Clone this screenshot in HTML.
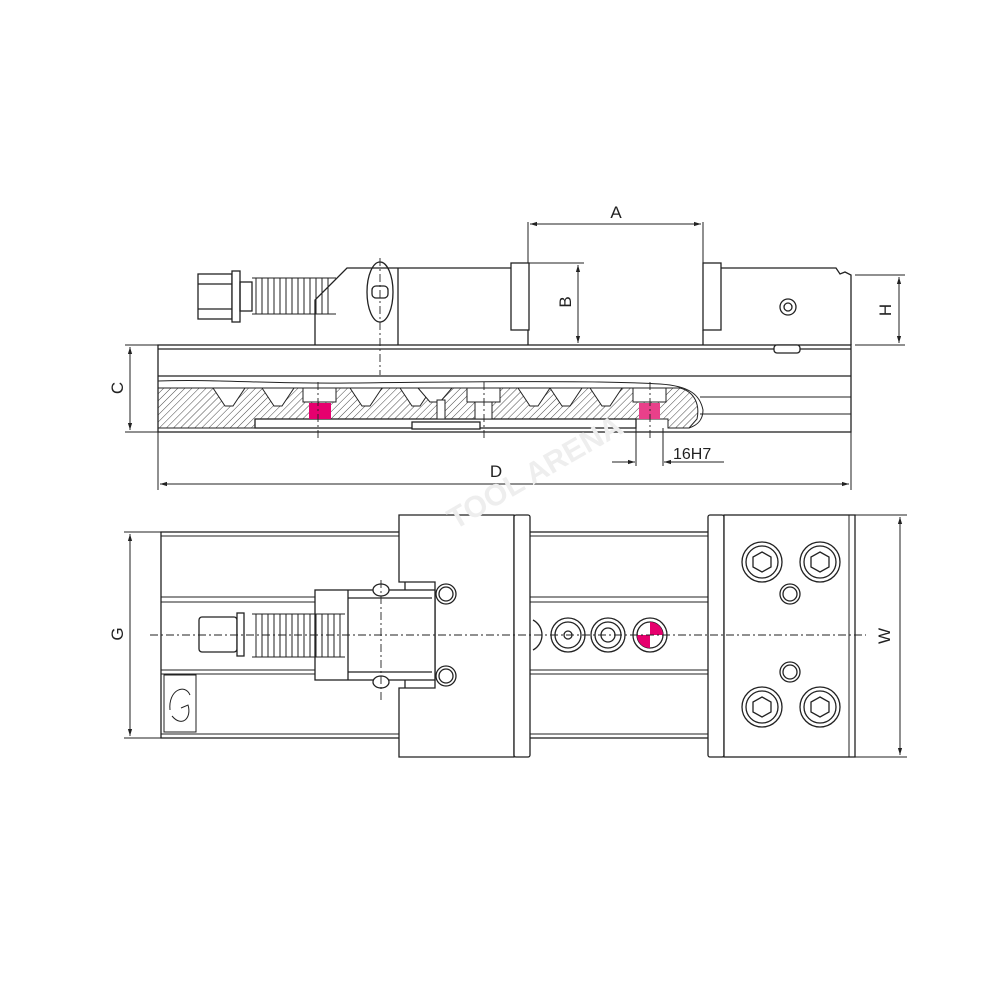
<!DOCTYPE html>
<html><head><meta charset="utf-8"><style>
html,body{margin:0;padding:0;background:#fff;}
svg{display:block}
text{font-family:"Liberation Sans",Arial,sans-serif;fill:#222}
</style></head><body>
<svg width="1000" height="1000" viewBox="0 0 1000 1000" xmlns="http://www.w3.org/2000/svg">
<defs>
<pattern id="h" width="5" height="5" patternUnits="userSpaceOnUse" patternTransform="rotate(45)">
<line x1="0" y1="0" x2="0" y2="5" stroke="#333" stroke-width="0.9"/></pattern>
<marker id="ar" viewBox="0 0 10 10" refX="10" refY="5" markerWidth="7" markerHeight="7" orient="auto-start-reverse"><path d="M0,2 L10,5 L0,8 z" fill="#222"/></marker>
</defs>
<g fill="none" stroke="#222" stroke-width="1.3">
<!-- TOP VIEW -->
<!-- screw -->
<rect x="198" y="274" width="34" height="45" fill="#fff"/>
<line x1="198" y1="284" x2="232" y2="284"/><line x1="198" y1="309" x2="232" y2="309"/>
<rect x="232" y="271" width="8" height="51" fill="#fff"/>
<rect x="240" y="282" width="12" height="29"/>
<g stroke-width="1">
<path d="M252 278 h84 M252 314 h84"/>
<path d="M256 278 v36 M262 278 v36 M268 278 v36 M274 278 v36 M280 278 v36 M286 278 v36 M292 278 v36 M298 278 v36 M304 278 v36 M310 278 v36 M316 278 v36 M322 278 v36 M328 278 v36"/>
</g>
<!-- movable jaw -->
<path d="M315 345 V300 L347 268 H511 M398 268 V345 M528 330 V345" />
<rect x="511" y="263" width="18" height="67" fill="#fff"/>
<ellipse cx="380" cy="292" rx="13" ry="30"/>
<rect x="372" y="286" width="16" height="12" rx="4"/>
<!-- fixed jaw -->
<rect x="703" y="263" width="18" height="67" fill="#fff"/>
<path d="M703 330 V345 M721 268 H836 l4 6 l5 -2 l6 3 V345"/>
<circle cx="788" cy="307" r="8"/><circle cx="788" cy="307" r="4"/>
<!-- base -->
<rect x="158" y="345" width="693" height="87"/>
<line x1="158" y1="349" x2="851" y2="349"/>
<line x1="158" y1="376" x2="851" y2="376"/>
<path d="M158 381 C220 379 260 384 350 383 C450 382 600 380 660 384 C690 386 700 395 703 410 C703 422 695 426 689 428" stroke-width="1"/>
<line x1="700" y1="397" x2="851" y2="397" stroke-width="1"/>
<line x1="700" y1="414" x2="851" y2="414" stroke-width="1"/>
<path d="M158 388 H680 C695 392 700 405 697 419 L689 428 H668 V419 H636 V428 H480 V422 H412 V428 H255 V419 L255 428 H158 Z" fill="url(#h)" stroke-width="1"/>
<rect x="255" y="419" width="381" height="9" fill="#fff"/>
<rect x="412" y="422" width="68" height="7" fill="#fff"/>
<!-- V grooves -->
<g fill="#fff" stroke-width="1">
<path d="M213 388 l12 18 h8 l12 -18z"/><path d="M262 388 l12 18 h8 l12 -18z"/>
<path d="M350 388 l12 18 h8 l12 -18z"/><path d="M400 388 l12 18 h8 l12 -18z"/>
<path d="M518 388 l12 18 h8 l12 -18z"/><path d="M550 388 l12 18 h8 l12 -18z"/>
<path d="M590 388 l12 18 h8 l12 -18z"/><path d="M418 388 l12 14 h10 l12 -14z"/>
<rect x="303" y="388" width="33" height="14"/><rect x="467" y="388" width="33" height="14"/><rect x="633" y="388" width="33" height="14"/>
<rect x="475" y="402" width="17" height="17"/><rect x="437" y="400" width="8" height="19"/>
</g>
<rect x="309" y="403" width="22" height="16" fill="#e6006e" stroke="none"/>
<rect x="639" y="403" width="21" height="16" fill="#e8408a" stroke="none"/>
<rect x="774" y="345" width="26" height="8" rx="3" fill="#fff"/>
<!-- center lines -->
<g stroke-dasharray="8 3 2 3" stroke-width="0.9">
<line x1="380" y1="258" x2="380" y2="375"/>
<line x1="318" y1="382" x2="318" y2="440"/>
<line x1="484" y1="382" x2="484" y2="440"/>
<line x1="650" y1="382" x2="650" y2="440"/>
</g>
<!-- dimensions -->
<g stroke-width="1">
<line x1="528" y1="222" x2="528" y2="263"/><line x1="703" y1="222" x2="703" y2="263"/>
<line x1="530" y1="224" x2="701" y2="224" marker-start="url(#ar)" marker-end="url(#ar)"/>
<line x1="529" y1="263" x2="584" y2="263"/>
<line x1="578" y1="265" x2="578" y2="343" marker-start="url(#ar)" marker-end="url(#ar)"/>
<line x1="855" y1="275" x2="905" y2="275"/><line x1="855" y1="345" x2="905" y2="345"/>
<line x1="899" y1="277" x2="899" y2="343" marker-start="url(#ar)" marker-end="url(#ar)"/>
<line x1="125" y1="345" x2="158" y2="345"/><line x1="125" y1="432" x2="158" y2="432"/>
<line x1="130" y1="347" x2="130" y2="430" marker-start="url(#ar)" marker-end="url(#ar)"/>
<line x1="158" y1="432" x2="158" y2="490"/><line x1="851" y1="432" x2="851" y2="490"/>
<line x1="160" y1="484" x2="849" y2="484" marker-start="url(#ar)" marker-end="url(#ar)"/>
<line x1="636" y1="428" x2="636" y2="466"/><line x1="663" y1="428" x2="663" y2="466"/>
<line x1="612" y1="462" x2="635" y2="462" marker-end="url(#ar)"/>
<line x1="724" y1="462" x2="664" y2="462" marker-end="url(#ar)"/>
</g>

<!-- BOTTOM VIEW -->
<rect x="161" y="532" width="548" height="206"/>
<line x1="161" y1="536" x2="709" y2="536" stroke-width="1"/>
<line x1="161" y1="597" x2="709" y2="597" stroke-width="1"/><line x1="161" y1="602" x2="709" y2="602" stroke-width="1"/>
<line x1="161" y1="670" x2="709" y2="670" stroke-width="1"/><line x1="161" y1="674" x2="709" y2="674" stroke-width="1"/>
<line x1="161" y1="734" x2="709" y2="734" stroke-width="1"/>
<rect x="164" y="675" width="32" height="57" stroke-width="1"/>
<path d="M170 710 C168 690 185 683 190 695 M172 716 C182 728 192 718 188 705 L181 708" stroke-width="1"/>
<!-- movable jaw -->
<path d="M399 515 H514 V757 H399 V688 H435 V582 H399 Z" fill="#fff"/>
<path d="M405 582 V590 M405 680 V688"/>
<rect x="514" y="515" width="16" height="242" rx="2" fill="#fff"/>
<rect x="315" y="590" width="120" height="90" fill="#fff"/>
<line x1="348" y1="590" x2="348" y2="680"/>
<line x1="348" y1="598" x2="432" y2="598"/><line x1="348" y1="672" x2="432" y2="672"/>
<ellipse cx="381" cy="590" rx="8" ry="6" fill="#fff"/><ellipse cx="381" cy="682" rx="8" ry="6" fill="#fff"/>
<!-- screw -->
<rect x="199" y="617" width="38" height="35" rx="3" fill="#fff"/>
<rect x="237" y="613" width="7" height="43" fill="#fff"/>
<g stroke-width="1"><path d="M252 614 h93 M252 657 h93"/>
<path d="M256 614v43M262 614v43M268 614v43M274 614v43M280 614v43M286 614v43M292 614v43M298 614v43M304 614v43M310 614v43M316 614v43M322 614v43M328 614v43M334 614v43M340 614v43"/></g>
<circle cx="446" cy="594" r="10"/><circle cx="446" cy="594" r="7"/>
<circle cx="446" cy="676" r="10"/><circle cx="446" cy="676" r="7"/>
<!-- fixed jaw -->
<rect x="708" y="515" width="16" height="242" rx="2" fill="#fff"/>
<rect x="724" y="515" width="131" height="242" fill="#fff"/>
<line x1="849" y1="515" x2="849" y2="757" stroke-width="1"/>
<g>
<circle cx="762" cy="562" r="20"/><circle cx="762" cy="562" r="16"/><path d="M762 552 l9 5 v10 l-9 5 l-9 -5 v-10z"/>
<circle cx="820" cy="562" r="20"/><circle cx="820" cy="562" r="16"/><path d="M820 552 l9 5 v10 l-9 5 l-9 -5 v-10z"/>
<circle cx="762" cy="707" r="20"/><circle cx="762" cy="707" r="16"/><path d="M762 697 l9 5 v10 l-9 5 l-9 -5 v-10z"/>
<circle cx="820" cy="707" r="20"/><circle cx="820" cy="707" r="16"/><path d="M820 697 l9 5 v10 l-9 5 l-9 -5 v-10z"/>
<circle cx="790" cy="594" r="10"/><circle cx="790" cy="594" r="7"/>
<circle cx="790" cy="672" r="10"/><circle cx="790" cy="672" r="7"/>
</g>
<!-- center holes -->
<path d="M533 620 A17 17 0 0 1 533 650"/>
<circle cx="568" cy="635" r="17"/><circle cx="568" cy="635" r="13"/><circle cx="568" cy="635" r="4"/>
<circle cx="608" cy="635" r="17"/><circle cx="608" cy="635" r="13"/><circle cx="608" cy="635" r="7"/>
<circle cx="650" cy="635" r="17"/><circle cx="650" cy="635" r="13"/>
<path d="M650 622 A13 13 0 0 1 663 635 H650Z M650 635 H637 A13 13 0 0 0 650 648Z" fill="#e6006e" stroke="none"/>
<g stroke-dasharray="8 3 2 3" stroke-width="0.9">
<line x1="150" y1="635" x2="866" y2="635"/>
<line x1="381" y1="580" x2="381" y2="700"/>
</g>
<!-- dimensions G W -->
<g stroke-width="1">
<line x1="124" y1="532" x2="161" y2="532"/><line x1="124" y1="738" x2="161" y2="738"/>
<line x1="130" y1="534" x2="130" y2="736" marker-start="url(#ar)" marker-end="url(#ar)"/>
<line x1="855" y1="515" x2="907" y2="515"/><line x1="855" y1="757" x2="907" y2="757"/>
<line x1="900" y1="517" x2="900" y2="755" marker-start="url(#ar)" marker-end="url(#ar)"/>
</g>
</g>
<!-- labels -->
<text x="616" y="218" font-size="17" text-anchor="middle">A</text>
<text x="0" y="0" font-size="17" text-anchor="middle" transform="translate(571,302) rotate(-90)">B</text>
<text x="0" y="0" font-size="17" text-anchor="middle" transform="translate(891,310) rotate(-90)">H</text>
<text x="0" y="0" font-size="17" text-anchor="middle" transform="translate(123,388) rotate(-90)">C</text>
<text x="496" y="477" font-size="17" text-anchor="middle">D</text>
<text x="673" y="459" font-size="16">16H7</text>
<text x="0" y="0" font-size="17" text-anchor="middle" transform="translate(123,634) rotate(-90)">G</text>
<text x="0" y="0" font-size="17" text-anchor="middle" transform="translate(890,636) rotate(-90)">W</text>
<text x="0" y="0" font-size="30" font-weight="bold" transform="translate(455,530) rotate(-30)" style="fill:#eee">TOOL ARENA</text>
</svg>
</body></html>
